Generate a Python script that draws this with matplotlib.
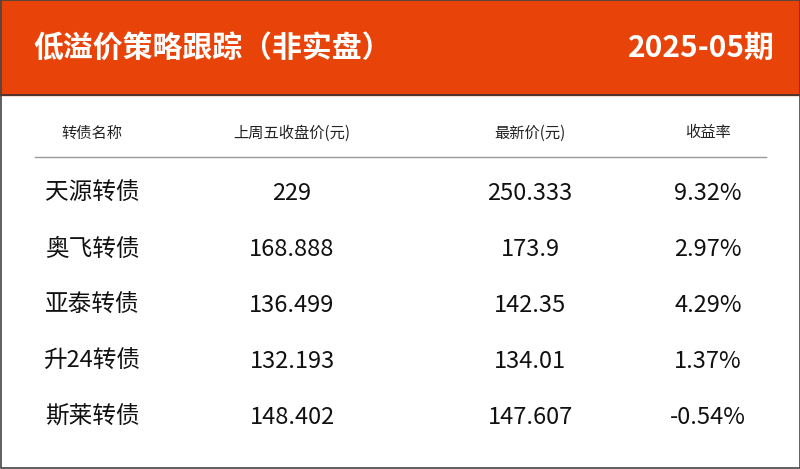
import matplotlib
matplotlib.use("Agg")
import matplotlib.pyplot as plt
from matplotlib.patches import Rectangle

plt.rcParams['font.family'] = ['Noto Sans CJK SC', 'DejaVu Sans']

title = "低溢价策略跟踪（非实盘）"
period = "2025-05期"
headers = ["转债名称", "上周五收盘价(元)", "最新价(元)", "收益率"]
names = ["天源转债", "奥飞转债", "亚泰转债", "升24转债", "斯莱转债"]
prev_close = ["229", "168.888", "136.499", "132.193", "148.402"]
latest = ["250.333", "173.9", "142.35", "134.01", "147.607"]
returns = ["9.32%", "2.97%", "4.29%", "1.37%", "-0.54%"]

W, H = 800, 469
fig = plt.figure(figsize=(8, 4.69), dpi=100)
ax = fig.add_axes([0, 0, 1, 1])
ax.set_xlim(0, W); ax.set_ylim(H, 0); ax.axis('off')

ax.add_patch(Rectangle((0, 0), W, 95, color='#E8440A', zorder=1))
ax.add_patch(Rectangle((0.5, 0.5), W - 1, H - 1, fill=False, ec='#444444', lw=1.2, zorder=3))
ax.plot([0, W], [95, 95], color='#333333', lw=1.2, zorder=2)

ax.text(33, 48, title, color='white', fontsize=21.5, fontweight='bold', va='center', ha='left')
ax.text(775, 48, period, color='white', fontsize=21.5, fontweight='bold', va='center', ha='right')

xs = [92, 292, 530, 708]
for x, h in zip(xs, headers):
    ax.text(x, 133, h, fontsize=11, ha='center', va='center', color='#222222')
ax.plot([35, 766], [157, 157], color='#999999', lw=1)

cols = [names, prev_close, latest, returns]
for i in range(len(names)):
    y = 193 + 56 * i
    for x, c in zip(xs, cols):
        ax.text(x, y, c[i], fontsize=17, ha='center', va='center', color='#111111')

fig.savefig('out.png', dpi=100)
